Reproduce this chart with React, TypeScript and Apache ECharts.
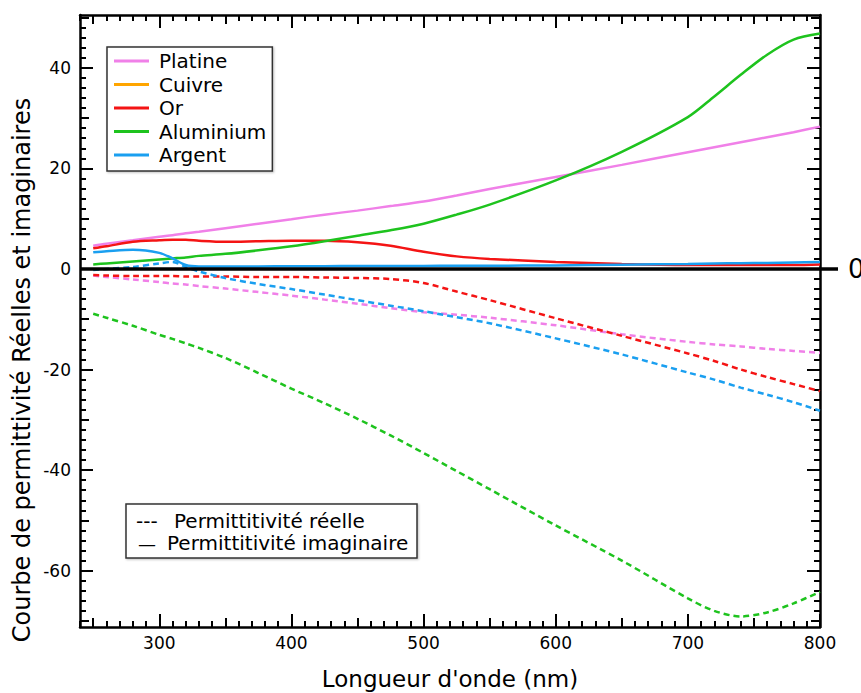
import React, { useEffect, useRef } from 'react';
import * as echarts from 'echarts';

// ---------- data ----------
const wavelengths = [250, 260, 280, 300, 310, 320, 330, 350, 375, 400, 425, 450, 475, 500, 525, 550, 600, 650, 700, 720, 740, 760, 780, 800];

const platineImag = [4.6, 5.0, 5.7, 6.4, 6.7, 7.1, 7.4, 8.1, 9.0, 9.9, 10.8, 11.6, 12.5, 13.4, 14.6, 15.9, 18.3, 20.7, 23.2, 24.2, 25.2, 26.2, 27.2, 28.3];
const platineReal = [-1.3, -1.6, -2.1, -2.6, -2.9, -3.1, -3.4, -3.9, -4.6, -5.3, -6.1, -6.9, -7.8, -8.6, -9.1, -9.7, -11.2, -13.0, -14.5, -15.0, -15.4, -15.9, -16.3, -16.7];
const cuivreImag: number[] = [];
const cuivreReal: number[] = [];
const orImag = [4.1, 4.5, 5.4, 5.7, 5.8, 5.8, 5.6, 5.4, 5.5, 5.6, 5.6, 5.3, 4.6, 3.4, 2.5, 2.0, 1.4, 1.0, 0.8, 0.8, 0.8, 0.8, 0.8, 0.9];
const orReal = [-1.2, -1.3, -1.4, -1.4, -1.4, -1.5, -1.5, -1.5, -1.6, -1.6, -1.7, -1.8, -2.0, -2.8, -4.5, -6.2, -9.8, -13.3, -16.8, -18.3, -20.0, -21.5, -22.9, -24.3];
const aluImag = [0.9, 1.1, 1.5, 1.9, 2.1, 2.3, 2.6, 3.0, 3.7, 4.5, 5.5, 6.6, 7.7, 9.0, 10.8, 12.8, 17.6, 23.3, 30.2, 34.3, 38.6, 42.6, 45.6, 46.8];
const aluReal = [-8.9, -9.7, -11.3, -13.1, -13.9, -14.8, -15.7, -17.7, -20.7, -23.8, -26.7, -29.8, -33.1, -36.6, -40.2, -43.8, -51.0, -58.0, -65.5, -68.0, -69.1, -68.3, -66.5, -64.2];
const argentImag = [3.3, 3.5, 3.8, 3.2, 2.1, 0.8, 0.5, 0.5, 0.5, 0.55, 0.55, 0.6, 0.6, 0.6, 0.65, 0.65, 0.7, 0.85, 1.0, 1.1, 1.15, 1.2, 1.3, 1.4];
const argentReal = [-0.2, 0.0, 0.4, 1.1, 1.4, 0.4, -0.5, -1.8, -3.0, -4.0, -5.1, -6.2, -7.3, -8.4, -9.6, -10.8, -13.8, -17.0, -20.6, -22.0, -23.6, -25.0, -26.5, -28.2];

const metals = ['Platine', 'Cuivre', 'Or', 'Aluminium', 'Argent'];
const colors = ['#f080e8', '#ffa500', '#f41414', '#1ec31e', '#1a9ff0'];
const imagData = [platineImag, cuivreImag, orImag, aluImag, argentImag];
const realData = [platineReal, cuivreReal, orReal, aluReal, argentReal];

const xMajorTicks = [300, 400, 500, 600, 700, 800];
const xMidTicks = [250, 350, 450, 550, 650, 750];
const yMajorTicks = [-60, -40, -20, 0, 20, 40];
const yMidTicks = [-70, -50, -30, -10, 10, 30, 50];

const X_MIN = 240, X_MAX = 800, Y_MIN = -71.2, Y_MAX = 50.5;
const FONT = 'DejaVu Sans';

const xMinorTicks: number[] = [];
for (let v = 240; v <= 800; v += 10) xMinorTicks.push(v);
const yMinorTicks: number[] = [];
for (let v = -70; v <= 50; v += 2) yMinorTicks.push(v);

export default function App() {
  const ref = useRef<HTMLDivElement>(null);
  useEffect(() => {
    const chart = echarts.init(ref.current!, null, { renderer: 'svg' });
    const tickLine = { color: '#000', width: 2 };
    const mkX = (position: string, ticks: number[], len: number, main: boolean, name?: string) => ({
      type: 'value', position, min: X_MIN, max: X_MAX,
      axisLine: { show: main, onZero: false, lineStyle: { color: '#000', width: 2.5 } },
      axisTick: { show: true, inside: true, length: len, customValues: ticks, lineStyle: tickLine },
      axisLabel: main && position === 'bottom'
        ? { show: true, customValues: xMajorTicks, color: '#000', fontSize: 17, fontFamily: FONT, margin: 7 }
        : { show: false },
      splitLine: { show: false },
      name: name || '',
      nameLocation: 'middle', nameGap: 40,
      nameTextStyle: { color: '#000', fontSize: 23, fontFamily: FONT },
    });
    const mkY = (position: string, ticks: number[], len: number, main: boolean) => ({
      type: 'value', position, min: Y_MIN, max: Y_MAX,
      axisLine: { show: main, onZero: false, lineStyle: { color: '#000', width: 2.5 } },
      axisTick: { show: true, inside: true, length: len, customValues: ticks, lineStyle: tickLine },
      axisLabel: main && position === 'left'
        ? { show: true, customValues: yMajorTicks, color: '#000', fontSize: 17, fontFamily: FONT, margin: 9 }
        : { show: false },
      splitLine: { show: false },
    });

    const series: any[] = [];
    metals.forEach((m, i) => {
      series.push({
        name: m, type: 'line', xAxisIndex: 0, yAxisIndex: 0,
        data: imagData[i].map((v, k) => [wavelengths[k], v]),
        showSymbol: false, smooth: 0.3, color: colors[i],
        lineStyle: { color: colors[i], width: 2.5, type: 'solid' },
        z: 3,
        ...(i === 0 ? {
          markLine: {
            silent: true, symbol: ['none', 'none'], label: { show: false },
            lineStyle: { color: '#000', width: 3.5, type: 'solid' },
            data: [{ yAxis: 0 }],
          },
        } : {}),
      });
      series.push({
        name: m + ' (réelle)', type: 'line', xAxisIndex: 0, yAxisIndex: 0,
        data: realData[i].map((v, k) => [wavelengths[k], v]),
        showSymbol: false, smooth: 0.3, color: colors[i],
        lineStyle: { color: colors[i], width: 2.5, type: [6, 4] },
        z: 3,
      });
    });

    chart.setOption({
      animation: false,
      backgroundColor: '#fff',
      grid: { left: 80, right: 41, top: 15, bottom: 66, containLabel: false, outerBoundsMode: 'none' },
      xAxis: [
        mkX('bottom', xMajorTicks, 13, true, "Longueur d'onde (nm)"),
        mkX('bottom', xMidTicks, 9, false),
        mkX('bottom', xMinorTicks, 6, false),
        mkX('top', xMajorTicks, 13, true),
        mkX('top', xMidTicks, 9, false),
        mkX('top', xMinorTicks, 6, false),
      ],
      yAxis: [
        mkY('left', yMajorTicks, 13, true),
        mkY('left', yMidTicks, 9, false),
        mkY('left', yMinorTicks, 6, false),
        mkY('right', yMajorTicks, 13, true),
        mkY('right', yMidTicks, 9, false),
        mkY('right', yMinorTicks, 6, false),
        {
          type: 'value', position: 'right', min: Y_MIN, max: Y_MAX,
          axisLine: { show: false },
          axisTick: { show: true, inside: false, length: 18, customValues: [0], lineStyle: { color: '#000', width: 3.5 } },
          axisLabel: { show: true, customValues: [0], color: '#000', fontSize: 26, fontFamily: FONT, margin: 28 },
          splitLine: { show: false },
        },
      ],
      legend: {
        orient: 'vertical', left: 107, top: 47,
        data: metals, icon: 'rect', itemWidth: 35, itemHeight: 3, itemGap: 3.5,
        padding: [4, 6, 6, 7],
        borderColor: '#333', borderWidth: 1.5, backgroundColor: '#fff',
        shadowColor: 'rgba(0,0,0,0.25)', shadowBlur: 2, shadowOffsetX: 1, shadowOffsetY: 1,
        selectedMode: false,
        textStyle: { color: '#000', fontSize: 20, fontFamily: FONT, lineHeight: 20, padding: [0, 0, 0, 5] },
      },
      graphic: [
        {
          type: 'text', x: 22, y: 370, rotation: Math.PI / 2,
          style: { text: 'Courbe de permittivité Réelles et imaginaires', fill: '#000', fontSize: 24, fontFamily: FONT, align: 'center', verticalAlign: 'middle' },
        },
        {
          type: 'group', x: 126, y: 504,
          children: [
            { type: 'rect', shape: { x: 0, y: 0, width: 291, height: 54 }, style: { fill: '#fff', stroke: '#333', lineWidth: 1.5, shadowColor: 'rgba(0,0,0,0.25)', shadowBlur: 2, shadowOffsetX: 1, shadowOffsetY: 1 } },
            { type: 'text', x: 10, y: 17, style: { text: '---', fill: '#000', fontSize: 20, fontFamily: FONT, verticalAlign: 'middle' } },
            { type: 'text', x: 48, y: 17, style: { text: 'Permittitivité réelle', fill: '#000', fontSize: 20, fontFamily: FONT, verticalAlign: 'middle' } },
            { type: 'text', x: 12, y: 39, style: { text: '—', fill: '#000', fontSize: 18, fontFamily: FONT, verticalAlign: 'middle' } },
            { type: 'text', x: 41, y: 39, style: { text: 'Permittitivité imaginaire', fill: '#000', fontSize: 20, fontFamily: FONT, verticalAlign: 'middle' } },
          ],
        },
      ],
      series,
    });
    return () => chart.dispose();
  }, []);
  return <div ref={ref} style={{ position: 'absolute', left: 0, top: 0, width: 861, height: 693 }} />;
}
